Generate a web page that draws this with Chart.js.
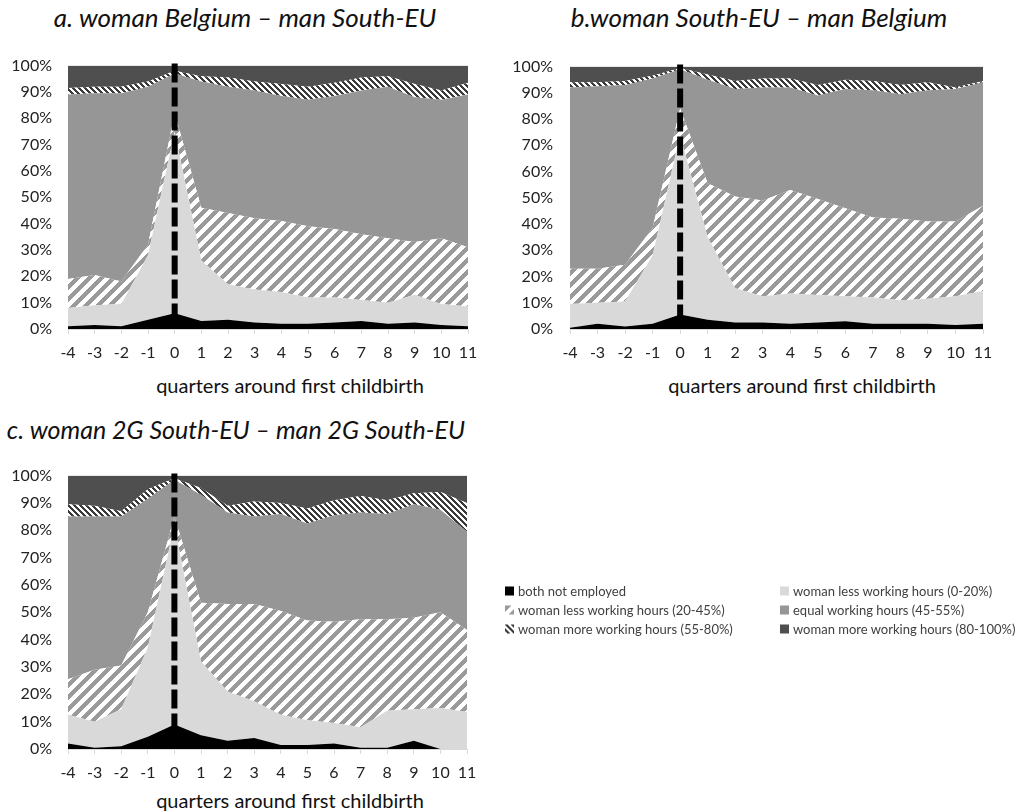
<!DOCTYPE html>
<html>
<head>
<meta charset="utf-8">
<script src="https://cdn.jsdelivr.net/npm/chart.js@4.4.1/dist/chart.umd.min.js"></script>
<style>
  html, body { margin: 0; padding: 0; background: #fff; }
  body { width: 1024px; height: 812px; position: relative; overflow: hidden; font-family: Lato, "Open Sans", sans-serif; }
  canvas.chart { position: absolute; }
  .title { position: absolute; font-style: italic; font-weight: 400; font-size: 26px; color: #111; white-space: nowrap; transform: translate(-50%, -50%); line-height: 1; }
  .cap { position: absolute; font-size: 20px; color: #111; white-space: nowrap; transform: translate(-50%, -50%); line-height: 1; }
  .leg { position: absolute; font-size: 13px; color: #404040; white-space: nowrap; line-height: 1; transform: translateY(-50%); display: flex; align-items: center; }
  .leg canvas { margin-right: 4px; }
</style>
</head>
<body>
<div class="title" style="left:245px;top:17px">a. woman Belgium – man South-EU</div>
<div class="title" style="left:759px;top:17px">b.woman South-EU – man Belgium</div>
<div class="title" style="left:236px;top:429px;font-size:25px">c. woman 2G South-EU – man 2G South-EU</div>
<div class="cap" style="left:290px;top:385px">quarters around first childbirth</div>
<div class="cap" style="left:802px;top:385px">quarters around first childbirth</div>
<div class="cap" style="left:290px;top:800px">quarters around first childbirth</div>

<canvas id="chartA" class="chart" width="512" height="330" style="left:0px;top:40px"></canvas>
<canvas id="chartB" class="chart" width="512" height="330" style="left:512px;top:40px"></canvas>
<canvas id="chartC" class="chart" width="512" height="340" style="left:0px;top:450px"></canvas>
<div id="legend"></div>

<script>
// ---- categories and labels ----
const categories = ['-4','-3','-2','-1','0','1','2','3','4','5','6','7','8','9','10','11'];
const seriesLabels = [
  'both not employed',
  'woman less working hours (0-20%)',
  'woman less working hours (20-45%)',
  'equal working hours (45-55%)',
  'woman more working hours (55-80%)',
  'woman more working hours (80-100%)'
];
const yTickStep = 10;
const birthQuarter = '0';

// ---- a. woman Belgium – man South-EU (shares in %) ----
const aNotEmployed = [1,1.5,1,3.5,6,3,3.5,2.5,2,2,2.5,3,2,2.5,1.5,1];
const aLess0to20   = [7,7.5,8.5,24.5,69,23,13.5,12.5,12,10,9.5,8,8,10.5,8,7.5];
const aLess20to45  = [11,11.5,8.5,4,7,20,27,27,27,27,26,25,24.5,20,25,22.5];
const aEqual       = [70,69,71.5,60,15,48,48,48.5,47.5,48,50.5,54.5,57.5,55,52.5,58];
const aMore55to80  = [2.5,2.5,2.5,2,1,2,3.5,3.5,4.5,5,5,5,4,5,3.5,4.5];
const aMore80to100 = [8.5,8,8,6,2,4,4.5,6,7,8,6.5,4.5,4,7,9.5,6.5];

// ---- b. woman South-EU – man Belgium ----
const bNotEmployed = [0.5,2,1,2,5.5,3.5,2.5,2.5,2,2.5,3,2,2,2,1.5,2];
const bLess0to20   = [9,8,9.5,26,68.5,31.5,13,10,11.5,10.5,9.5,10,9,9.5,11,12.5];
const bLess20to45  = [13.5,13,14,10.5,10,20.5,35,36.5,39.5,36.5,33.5,30.5,31,29.5,28.5,32.5];
const bEqual       = [69,69.5,68.5,57,15,39.5,41,43,39,39.5,45.5,48.5,47.5,50,50.5,47];
const bMore55to80  = [2,1.5,1.5,1,0.5,2,3,3.5,3.5,4,3.5,3.5,3.5,3,0.5,0.5];
const bMore80to100 = [6,6,5.5,3.5,0.5,3,5.5,4.5,4.5,7,5,5.5,7,6,8,5.5];

// ---- c. woman 2G South-EU – man 2G South-EU ----
const cNotEmployed = [2,0.5,1,4.5,9,5,3,4,1.5,1.5,2,0.5,0.5,3,0,0];
const cLess0to20   = [10.5,9.5,13.5,32.5,73,27,18,13.5,11,9,7.5,7.5,13.5,11.5,15,13.5];
const cLess20to45  = [13,19,16,13,3,21.5,32,35.5,38,36.5,37,39.5,33.5,33.5,35,30];
const cEqual       = [59.5,56,54.5,41.5,13.5,39.5,33.5,32,35.5,35.5,39,39,38.5,41.5,37.5,36];
const cMore55to80  = [4.5,4,2,3.5,0.5,2.5,2.5,5.5,4,5.5,5.5,6,5,4,6.5,10.5];
const cMore80to100 = [10.5,11,13,5,1,4.5,11,9.5,10,12,9,7.5,9,6.5,6,10];

// ---- fills ----
function hatch(ctx, fg, bg, period, frac, dir) {
  const c = document.createElement('canvas');
  c.width = period; c.height = period;
  const g = c.getContext('2d');
  g.fillStyle = bg; g.fillRect(0, 0, period, period);
  g.fillStyle = fg;
  for (let y = 0; y < period; y++) {
    for (let x = 0; x < period; x++) {
      const k = dir === 'up' ? (x + y) % period : ((x - y) % period + period) % period;
      if (k < period * frac) g.fillRect(x, y, 1, 1);
    }
  }
  return ctx.createPattern(c, 'repeat');
}
function makeFills(ctx) {
  return [
    '#000000',
    '#d9d9d9',
    hatch(ctx, '#9a9a9a', '#ffffff', 12, 0.45, 'up'),
    '#969696',
    hatch(ctx, '#3a3a3a', '#ffffff', 6, 0.5, 'down'),
    '#4f4f4f'
  ];
}

const birthLine = {
  id: 'birthLine',
  afterDatasetsDraw(chart, args, opts) {
    const {ctx, scales} = chart;
    const x = scales.x.getPixelForValue(categories.indexOf(birthQuarter));
    const yTop = scales.y.getPixelForValue(100) - 2;
    const yBot = scales.y.getPixelForValue(0);
    ctx.save();
    ctx.strokeStyle = '#000';
    ctx.lineWidth = 6;
    ctx.setLineDash([19, 5]);
    ctx.beginPath();
    ctx.moveTo(x, yTop);
    ctx.lineTo(x, yBot);
    ctx.stroke();
    ctx.restore();
  }
};

function buildChart(id, series, geom) {
  const ctx = document.getElementById(id).getContext('2d');
  const fills = makeFills(ctx);
  return new Chart(ctx, {
    type: 'line',
    data: {
      labels: categories,
      datasets: series.map((d, i) => ({
        label: seriesLabels[i],
        data: d,
        fill: i === 0 ? 'origin' : '-1',
        backgroundColor: fills[i],
        borderColor: 'rgba(0,0,0,0)',
        borderWidth: 0,
        pointRadius: 0,
        pointHoverRadius: 0,
        tension: 0
      }))
    },
    options: {
      responsive: false,
      animation: false,
      events: [],
      layout: { padding: { left: 0, right: geom.right, top: geom.top, bottom: 0 } },
      plugins: { legend: { display: false }, tooltip: { enabled: false }, title: { display: false } },
      scales: {
        x: {
          grid: { display: true, drawOnChartArea: false, drawTicks: true, tickLength: 5, color: '#d9d9d9' },
          border: { display: true, color: '#d9d9d9', width: 1 },
          ticks: { font: { family: 'Lato', size: 16 }, color: '#222', padding: 9, maxRotation: 0, autoSkip: false },
          afterFit: s => { s.height = 41; }
        },
        y: {
          stacked: true,
          min: 0, max: 100,
          grid: { display: false, drawTicks: false },
          border: { display: false },
          ticks: { stepSize: yTickStep, font: { family: 'Lato', size: 16 }, color: '#222', padding: geom.tickPad, callback: v => v + '%' },
          afterFit: s => { s.width = geom.yWidth; }
        }
      }
    },
    plugins: [birthLine]
  });
}

buildChart('chartA', [aNotEmployed, aLess0to20, aLess20to45, aEqual, aMore55to80, aMore80to100], { right: 44, top: 22, yWidth: 68, tickPad: 16 });
buildChart('chartB', [bNotEmployed, bLess0to20, bLess20to45, bEqual, bMore55to80, bMore80to100], { right: 41, top: 22, yWidth: 58, tickPad: 17 });
buildChart('chartC', [cNotEmployed, cLess0to20, cLess20to45, cEqual, cMore55to80, cMore80to100], { right: 45, top: 22, yWidth: 68, tickPad: 16 });

// ---- legend (HTML, two columns, three rows) ----
(function () {
  const legend = document.getElementById('legend');
  const colLeft = [505, 780];
  const rowY = [591, 610, 629];
  seriesLabels.forEach((name, i) => {
    const item = document.createElement('div');
    item.className = 'leg';
    item.style.left = colLeft[i % 2] + 'px';
    item.style.top = rowY[Math.floor(i / 2)] + 'px';
    const sw = document.createElement('canvas');
    sw.width = 9; sw.height = 9;
    const g = sw.getContext('2d');
    g.fillStyle = makeFills(g)[i];
    g.fillRect(0, 0, 9, 9);
    item.appendChild(sw);
    const t = document.createElement('span');
    t.textContent = name;
    item.appendChild(t);
    legend.appendChild(item);
  });
})();
</script>
</body>
</html>
